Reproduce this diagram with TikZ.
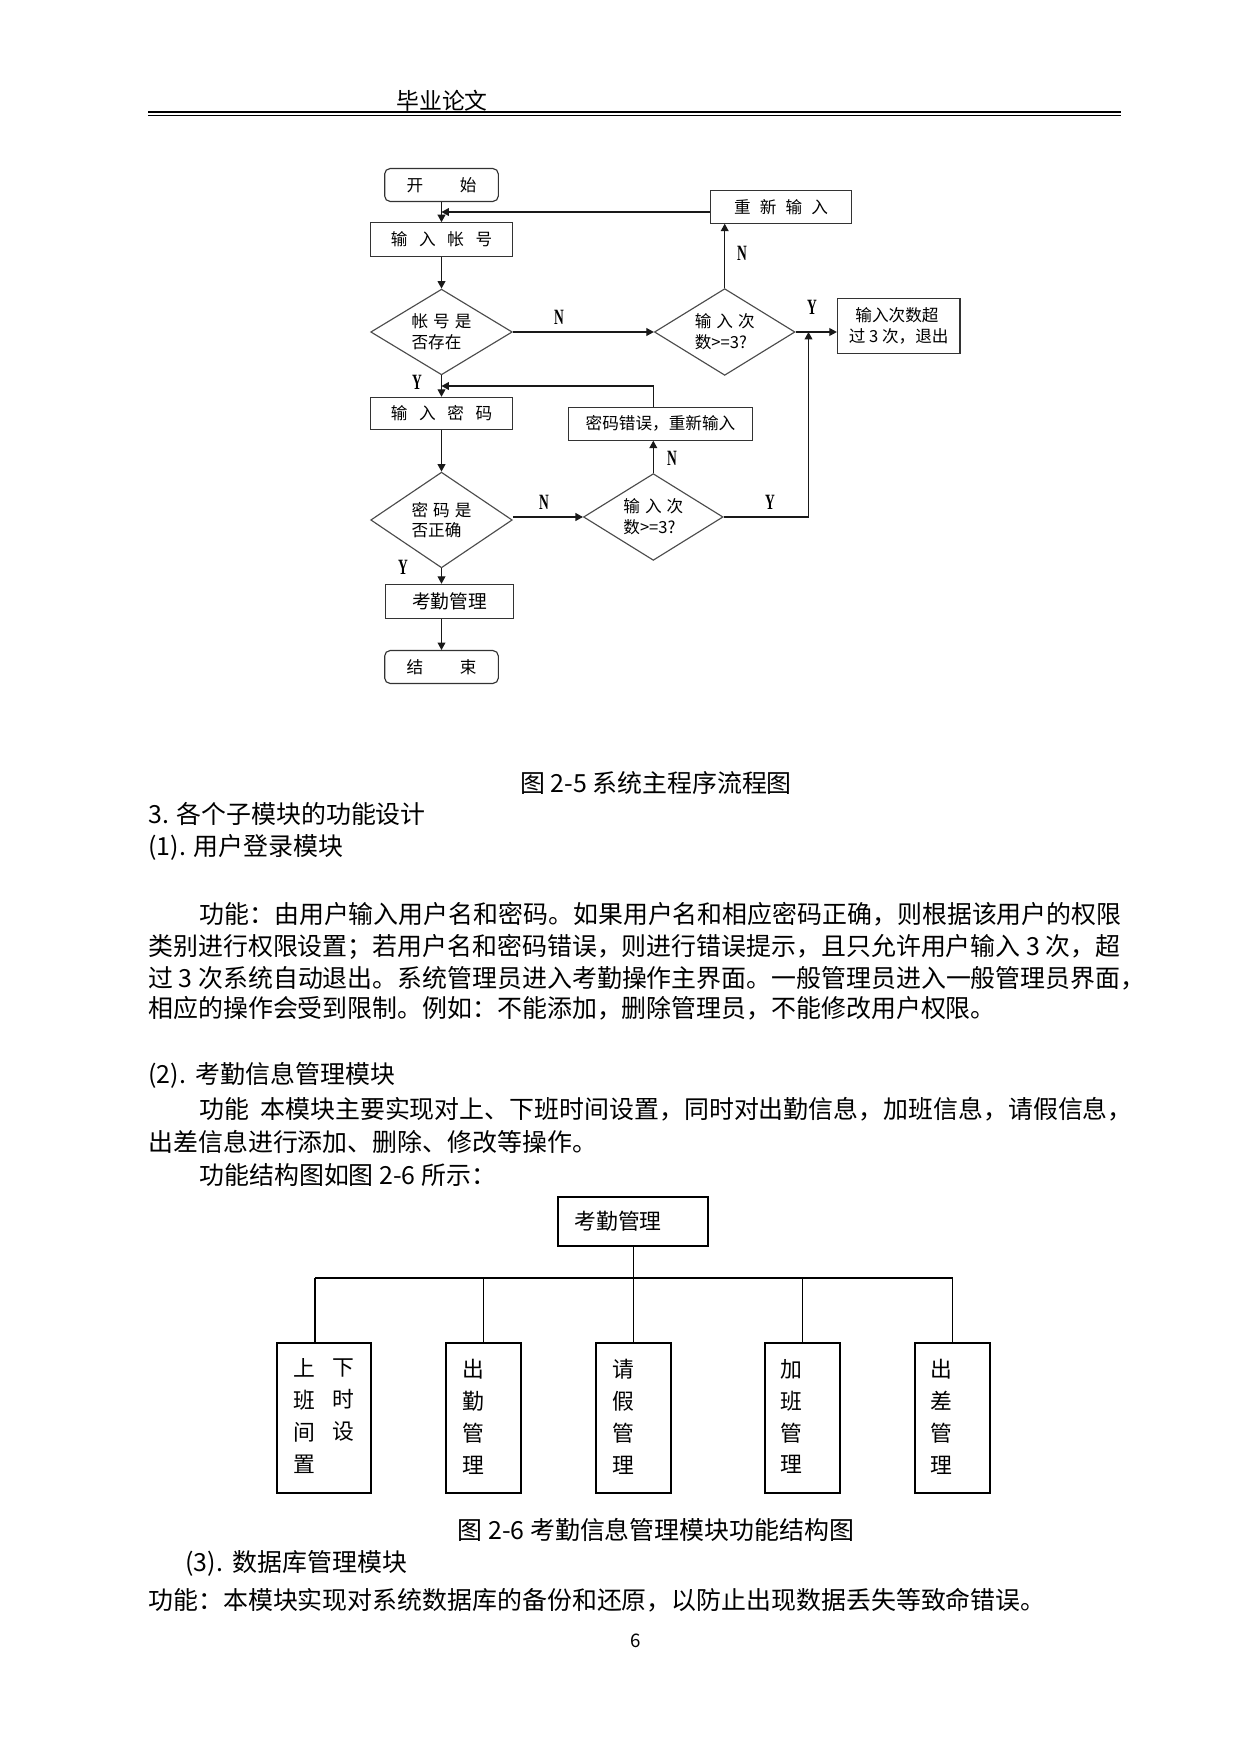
\documentclass[tikz,border=0pt]{standalone}
\usepackage{fontspec}
\setmainfont{Noto Sans CJK SC}
\newfontfamily\labfont{Liberation Serif}
\usetikzlibrary{shapes.geometric,arrows.meta}
\newcommand{\gp}{\hspace{0.7em}}
\newcommand{\sg}{\hspace{0.3em}}
\newcommand{\yn}[1]{\scalebox{0.62}[1]{\bfseries #1}}
\begin{document}
\begin{tikzpicture}[x=0.16922mm,y=-0.16922mm,
  wh/.style 2 args={minimum width=#1*0.48pt,minimum height=#2*0.48pt},
  fbox/.style={draw=black!80,line width=0.55pt,rectangle,inner sep=0pt,font=\fontsize{8pt}{10pt}\selectfont},
  rbox/.style={fbox,rounded corners=2.6pt},
  dec/.style={draw=black!70,line width=0.55pt,diamond,inner sep=0pt,align=left,font=\fontsize{8pt}{10pt}\selectfont},
  fl/.style={line width=0.55pt,draw=black!90},
  arr/.style={fl,-{Triangle[length=3.6pt,width=3.8pt]}},
  ynl/.style={font=\labfont\fontsize{10.5pt}{12pt}\selectfont,inner sep=0pt},
  body/.style={font=\fontsize{12pt}{14pt}\selectfont,inner sep=0pt,anchor=west},
  capt/.style={font=\fontsize{12pt}{14pt}\selectfont,inner sep=0pt},
  tbox/.style={draw,line width=1pt,rectangle,inner sep=0pt},
  vt/.style={font=\fontsize{10.5pt}{15.4pt}\selectfont,align=center,inner sep=0pt},
  tk/.style={line width=0.85pt},
  tn/.style={line width=0.5pt}]
\useasboundingbox[fill=white] (0,0) rectangle (1241,1754);

% header
\node[font=\fontsize{11pt}{13pt}\selectfont,inner sep=0pt] (hdr) at (442,101) {毕业论文};
\draw[line width=1.1pt] (148,112) -- (1121,112);
\draw[line width=0.5pt] (148,115.6) -- (1121,115.6);

% flowchart
\node[rbox,wh={114}{33}] (start) at (441.5,185) {开\hspace{2.2em}始};
\node[fbox,wh={143}{34}] (acct) at (441.5,239.7) {输\gp 入\gp 帐\gp 号};
\node[dec,wh={142}{86},aspect=1.65] (d1) at (441.5,332) {帐\sg 号\sg 是\\否存在};
\node[dec,wh={141}{87},aspect=1.62] (d2) at (724.7,332) {输\sg 入\sg 次\\数>=3?};
\node[fbox,wh={142}{33}] (retry) at (781,206.7) {重\hspace{0.55em}新\hspace{0.55em}输\hspace{0.55em}入};
\node[fbox,wh={123}{55},align=left] (exit) at (898.7,326) {\hspace{0.4em}输入次数超\\过 3 次，退出};
\node[fbox,wh={143}{32}] (pwd) at (441.5,413.3) {输\gp 入\gp 密\gp 码};
\node[fbox,wh={184}{33}] (err) at (660.5,423.7) {密码错误，重新输入};
\node[dec,wh={142}{96},aspect=1.48] (d3) at (441.5,520) {密\sg 码\sg 是\\否正确};
\node[dec,wh={140}{87},aspect=1.61] (d4) at (653.3,517) {输\sg 入\sg 次\\数>=3?};
\node[fbox,wh={129}{34},font=\fontsize{9pt}{11pt}\selectfont] (mgmt) at (449.5,601.3) {考勤管理};
\node[rbox,wh={114}{33}] (end) at (441.5,667) {结\hspace{2.2em}束};

\coordinate (j1) at (441.5,212);
\coordinate (j2) at (441.5,386);
\coordinate (j3) at (808.5,332);

\draw[arr] (start) -- (acct);
\draw[arr] (retry.west |- j1) -- (j1);
\draw[arr] (acct) -- (d1);
\draw[arr] (d1.east) -- (d2.west);
\draw[arr] (d2.north) -- (d2.north |- retry.south);
\draw[arr] (d2.east) -- (d2.east -| exit.west);
\draw[arr] (d1.south) -- (pwd.north);
\draw[arr] (d4.north |- err.north) -- (d4.north |- j2) -- (j2);
\draw[arr] (pwd) -- (d3);
\draw[arr] (d3.east |- d4.west) -- (d4.west);
\draw[arr] (d4.north) -- (d4.north |- err.south);
\draw[arr] (d4.east) -| (j3);
\draw[arr] (d3.south) -- (d3.south |- mgmt.north);
\draw[arr] (mgmt.south -| end.north) -- (end.north);

\node[ynl] (n1) at (559,317) {\yn{N}};
\node[ynl] (n2) at (742,253) {\yn{N}};
\node[ynl] (y1) at (812,307.5) {\yn{Y}};
\node[ynl] (y2) at (417,382) {\yn{Y}};
\node[ynl] (n3) at (544,502) {\yn{N}};
\node[ynl] (n4) at (672,458) {\yn{N}};
\node[ynl] (y3) at (770,502) {\yn{Y}};
\node[ynl] (y4) at (403,567) {\yn{Y}};

% text
\node[capt] (cap1) at (656,783) {图 2-5 系统主程序流程图};
\node[body] (s3) at (148,814) {3. 各个子模块的功能设计};
\node[body] (s31) at (148,847.5) {(1). 用户登录模块};
\node[body] (p1) at (199,914) {功能：由用户输入用户名和密码。如果用户名和相应密码正确，则根据该用户的权限};
\node[body] (p2) at (148,946.5) {类别进行权限设置；若用户名和密码错误，则进行错误提示，且只允许用户输入 3 次，超};
\node[body] (p3) at (148,978) {过 3 次系统自动退出。系统管理员进入考勤操作主界面。一般管理员进入一般管理员界面，};
\node[body] (p4) at (148,1008.7) {相应的操作会受到限制。例如：不能添加，删除管理员，不能修改用户权限。};
\node[body] (s32) at (148,1075) {(2).\hspace{0.4em}考勤信息管理模块};
\node[body] (q1) at (199,1109) {功能\hspace{0.45em}本模块主要实现对上、下班时间设置，同时对出勤信息，加班信息，请假信息，};
\node[body] (q2) at (148,1142) {出差信息进行添加、删除、修改等操作。};
\node[body] (q3) at (199,1175) {功能结构图如图 2-6 所示：};

% structure chart
\node[tbox,wh={150}{49},font=\fontsize{10.5pt}{12pt}\selectfont] (kq) at (633.2,1221.2) {\makebox[56.6pt][l]{考勤管理}};
\node[tbox,wh={94}{151}] (b1) at (323.9,1418) {};
\node[tbox,wh={75.5}{151}] (b2) at (483.4,1418) {};
\node[tbox,wh={75.5}{151}] (b3) at (633.7,1418) {};
\node[tbox,wh={75}{151}] (b4) at (802.5,1418) {};
\node[tbox,wh={75}{151}] (b5) at (952.5,1418) {};
\coordinate (bL) at (315,1277.7);
\coordinate (bR) at (952.5,1277.7);
\draw[tn] (kq.south) -- (kq.south |- bL);
\draw[tk] (bL) -- (bR);
\draw[tk] (bL) -- (bL |- b1.north);
\draw[tn] (b2.north |- bL) -- (b2.north);
\draw[tn] (b3.north |- bL) -- (b3.north);
\draw[tk] (b4.north |- bL) -- (b4.north);
\draw[tk] (bR) -- (b5.north);
\node[vt] (t1a) at (304,1416.5) {上\\班\\间\\置};
\node[vt] (t1b) at (343.7,1400.5) {下\\时\\设};
\node[vt] (t2) at (472.9,1416.5) {出\\勤\\管\\理};
\node[vt] (t3) at (623.6,1416.5) {请\\假\\管\\理};
\node[vt] (t4) at (791.7,1416.5) {加\\班\\管\\理};
\node[vt] (t5) at (941.7,1416.5) {出\\差\\管\\理};

\node[capt] (cap2) at (656,1530) {图 2-6 考勤信息管理模块功能结构图};
\node[body] (s33) at (185,1563.5) {(3).\hspace{0.4em}数据库管理模块};
\node[body] (r1) at (148,1600) {功能：本模块实现对系统数据库的备份和还原，以防止出现数据丢失等致命错误。};
\node[font=\fontsize{9pt}{11pt}\selectfont,inner sep=0pt] (pg) at (636,1641) {6};
\end{tikzpicture}
\end{document}
